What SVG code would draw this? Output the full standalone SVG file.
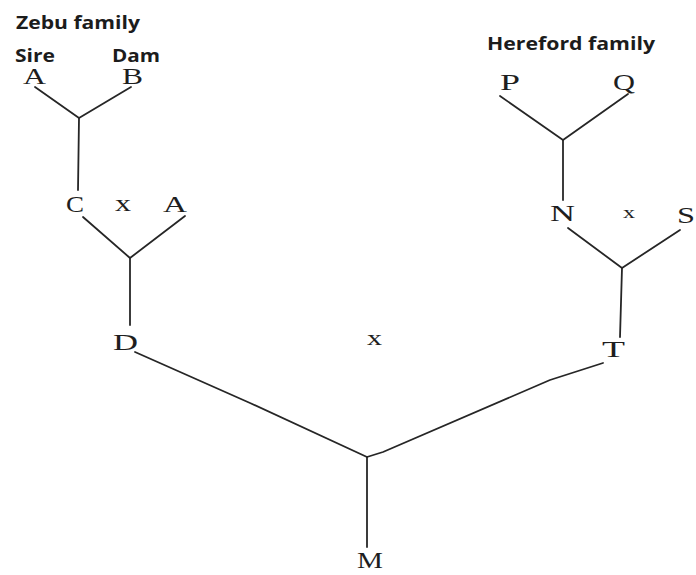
<svg xmlns="http://www.w3.org/2000/svg" width="696" height="575" viewBox="0 0 696 575">
<style>
.title{font-family:"Open Sans","Liberation Sans",Arial,sans-serif;font-weight:bold;font-size:18px;fill:#1c1c1c}
.lbl{font-family:"Liberation Serif","Times New Roman",serif;font-size:24px;fill:#1e1e1e}
.cross{font-family:"Liberation Serif","Times New Roman",serif;fill:#1e1e1e}
.edge{fill:none;stroke:#262626;stroke-width:1.8;stroke-linecap:round;stroke-linejoin:round}
</style>
<rect width="696" height="575" fill="#ffffff"/>
<g id="headings">
<text class="title" x="16" y="29" textLength="124" lengthAdjust="spacingAndGlyphs">Zebu family</text>
<text class="title" x="15" y="62" textLength="40" lengthAdjust="spacingAndGlyphs">Sire</text>
<text class="title" x="112" y="62" textLength="48" lengthAdjust="spacingAndGlyphs">Dam</text>
<text class="title" x="487" y="50" textLength="168" lengthAdjust="spacingAndGlyphs">Hereford family</text>
</g>
<g id="connectors">
<polyline class="edge" points="35,87 79,118 131,87"/>
<line class="edge" x1="79" y1="118" x2="78" y2="190"/>
<polyline class="edge" points="83,217 130,258 185,216"/>
<line class="edge" x1="130" y1="258" x2="130" y2="325"/>
<polyline class="edge" points="135,352 250,403 367,457"/>
<polyline class="edge" points="603,363 550,380 383,452 367,457"/>
<line class="edge" x1="367" y1="457" x2="367" y2="547"/>
<polyline class="edge" points="500,96 563,140 628,94"/>
<line class="edge" x1="563" y1="140" x2="563" y2="200"/>
<polyline class="edge" points="568,228 622,268 680,230"/>
<line class="edge" x1="622" y1="268" x2="620" y2="337"/>
</g>
<g id="node-A1"><text class="lbl" x="23" y="84" font-size="23" textLength="23" lengthAdjust="spacingAndGlyphs">A</text></g>
<g id="node-B"><text class="lbl" x="122" y="84" font-size="23" textLength="21" lengthAdjust="spacingAndGlyphs">B</text></g>
<g id="node-C"><text class="lbl" x="66" y="212" textLength="18" lengthAdjust="spacingAndGlyphs">C</text></g>
<g id="cross-1"><text class="cross" font-size="24" x="115" y="211" textLength="16" lengthAdjust="spacingAndGlyphs">x</text></g>
<g id="node-A2"><text class="lbl" x="163" y="212" textLength="24" lengthAdjust="spacingAndGlyphs">A</text></g>
<g id="node-D"><text class="lbl" x="113" y="350" textLength="25" lengthAdjust="spacingAndGlyphs">D</text></g>
<g id="cross-mid"><text class="cross" font-size="22" x="367" y="345" textLength="15" lengthAdjust="spacingAndGlyphs">x</text></g>
<g id="node-M"><text class="lbl" x="357" y="568" textLength="26" lengthAdjust="spacingAndGlyphs">M</text></g>
<g id="node-P"><text class="lbl" x="500" y="90" textLength="20" lengthAdjust="spacingAndGlyphs">P</text></g>
<g id="node-Q"><text class="lbl" x="613" y="90" textLength="22" lengthAdjust="spacingAndGlyphs">Q</text></g>
<g id="node-N"><text class="lbl" x="550" y="221" textLength="25" lengthAdjust="spacingAndGlyphs">N</text></g>
<g id="cross-2"><text class="cross" font-size="16" x="623" y="218" textLength="12" lengthAdjust="spacingAndGlyphs">x</text></g>
<g id="node-S"><text class="lbl" x="677" y="223" textLength="18" lengthAdjust="spacingAndGlyphs">S</text></g>
<g id="node-T"><text class="lbl" x="602" y="357" textLength="23" lengthAdjust="spacingAndGlyphs">T</text></g>
</svg>
